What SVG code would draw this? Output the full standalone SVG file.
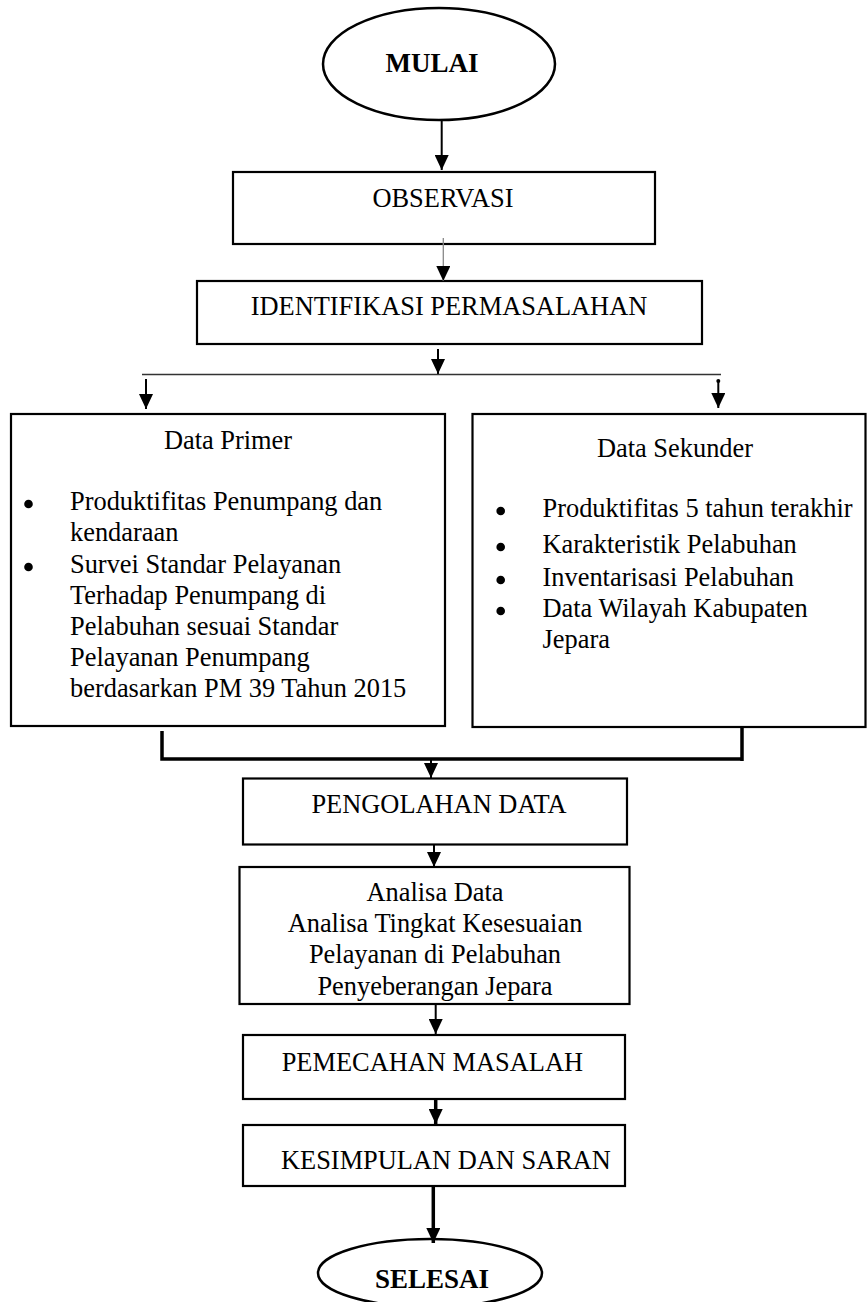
<svg xmlns="http://www.w3.org/2000/svg" width="867" height="1302" viewBox="0 0 867 1302">
<style>
.box{fill:#fff;stroke:#000;stroke-width:2.2}
.t{font-family:"Liberation Serif","Times New Roman",serif;font-size:26.4px;fill:#000}
.b{font-weight:bold;font-size:27px}
.c{text-anchor:middle}
.ln{stroke:#000;stroke-width:2;fill:none}
.thk{stroke:#000;stroke-width:3.5;fill:none}
.gray{stroke:#888;stroke-width:1.3;fill:none}
.split{stroke:#333;stroke-width:1.6;fill:none}
.dot{fill:#000}
</style>
<defs>
<marker id="ah" markerUnits="userSpaceOnUse" viewBox="0 0 15 14" markerWidth="15" markerHeight="14" refX="15" refY="7" orient="auto">
<path d="M0,0 L15,7 L0,14 z" fill="#000"/>
</marker>
</defs>
<rect width="867" height="1302" fill="#fff"/>

<g id="mulai">
<ellipse cx="439" cy="64" rx="116" ry="56" fill="#fff" stroke="#000" stroke-width="2.5"/>
<text class="t b c" x="432" y="72">MULAI</text>
</g>

<g id="observasi">
<rect class="box" x="233" y="172" width="422" height="72"/>
<text class="t c" x="443" y="207">OBSERVASI</text>
</g>

<g id="identifikasi">
<rect class="box" x="197" y="281" width="505" height="63"/>
<text class="t c" x="449" y="315">IDENTIFIKASI PERMASALAHAN</text>
</g>

<g id="data-primer">
<rect class="box" x="11" y="414" width="434" height="312"/>
<text class="t c" x="228" y="449">Data Primer</text>
<circle class="dot" cx="28.5" cy="504" r="4.3"/>
<circle class="dot" cx="28.5" cy="567" r="4.3"/>
<text class="t" x="70" y="510">Produktifitas Penumpang dan</text>
<text class="t" x="70" y="541">kendaraan</text>
<text class="t" x="70" y="573">Survei Standar Pelayanan</text>
<text class="t" x="70" y="604">Terhadap Penumpang di</text>
<text class="t" x="70" y="635">Pelabuhan sesuai Standar</text>
<text class="t" x="70" y="666">Pelayanan Penumpang</text>
<text class="t" x="70" y="697">berdasarkan PM 39 Tahun 2015</text>
</g>

<g id="data-sekunder">
<rect class="box" x="472.5" y="414" width="393" height="313"/>
<text class="t c" x="675" y="457">Data Sekunder</text>
<circle class="dot" cx="500.7" cy="511" r="4.3"/>
<circle class="dot" cx="500.7" cy="547" r="4.3"/>
<circle class="dot" cx="500.7" cy="580" r="4.3"/>
<circle class="dot" cx="500.7" cy="611" r="4.3"/>
<text class="t" x="542.5" y="517">Produktifitas 5 tahun terakhir</text>
<text class="t" x="542.5" y="553">Karakteristik Pelabuhan</text>
<text class="t" x="542.5" y="586">Inventarisasi Pelabuhan</text>
<text class="t" x="542.5" y="617">Data Wilayah Kabupaten</text>
<text class="t" x="542.5" y="648">Jepara</text>
</g>

<g id="pengolahan">
<rect class="box" x="243" y="778.5" width="384" height="66"/>
<text class="t c" x="439" y="813">PENGOLAHAN DATA</text>
</g>

<g id="analisa">
<rect class="box" x="239.5" y="867" width="390" height="137"/>
<text class="t c" x="435" y="901">Analisa Data</text>
<text class="t c" x="435" y="932">Analisa Tingkat Kesesuaian</text>
<text class="t c" x="435" y="963">Pelayanan di Pelabuhan</text>
<text class="t c" x="435" y="995">Penyeberangan Jepara</text>
</g>

<g id="pemecahan">
<rect class="box" x="243" y="1035" width="382" height="64"/>
<text class="t" x="281.7" y="1071">PEMECAHAN MASALAH</text>
</g>

<g id="kesimpulan">
<rect class="box" x="243" y="1125" width="382" height="61"/>
<text class="t" x="281" y="1169">KESIMPULAN DAN SARAN</text>
</g>

<g id="selesai">
<ellipse cx="430" cy="1273" rx="112" ry="34" fill="#fff" stroke="#000" stroke-width="2.5"/>
<text class="t b c" x="432" y="1288">SELESAI</text>
</g>

<g id="connectors">
<line class="ln" x1="441.7" y1="120" x2="441.7" y2="170" marker-end="url(#ah)"/>
<line class="gray" x1="443.3" y1="238" x2="443.3" y2="281" marker-end="url(#ah)"/>
<line class="ln" x1="438" y1="349" x2="438" y2="374" marker-end="url(#ah)"/>
<line class="split" x1="142" y1="374.5" x2="721" y2="374.5"/>
<line class="ln" x1="146" y1="379" x2="146" y2="409" marker-end="url(#ah)"/>
<line class="ln" x1="718.3" y1="381" x2="718.3" y2="408" marker-end="url(#ah)"/>
<circle class="dot" cx="718.3" cy="381" r="2"/>
<path class="thk" d="M162,731 V759 H742 M742,727 V761"/>
<line class="ln" x1="431" y1="760" x2="431" y2="778" marker-end="url(#ah)"/>
<line class="ln" x1="434" y1="844" x2="434" y2="867" marker-end="url(#ah)"/>
<line class="ln" x1="435.7" y1="1004" x2="435.7" y2="1034" marker-end="url(#ah)"/>
<line class="thk" x1="435.7" y1="1099" x2="435.7" y2="1124" marker-end="url(#ah)"/>
<line class="thk" x1="433.3" y1="1186" x2="433.3" y2="1243" marker-end="url(#ah)"/>
</g>
</svg>
